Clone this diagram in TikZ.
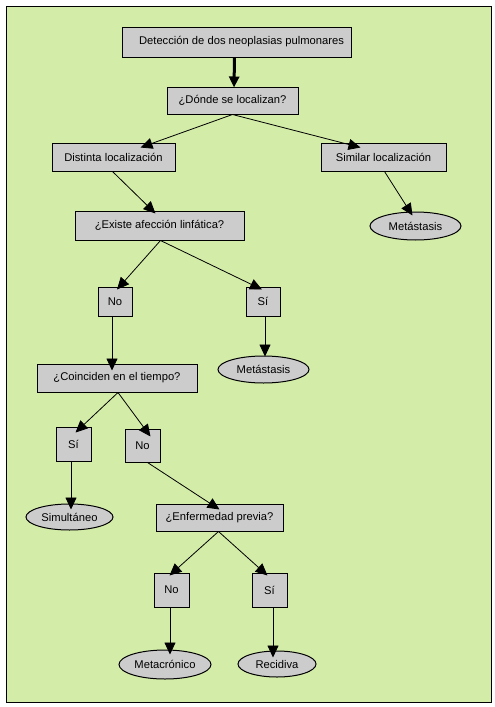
\documentclass[tikz,border=0pt]{standalone}
\usepackage{fontspec}
\setmainfont{Liberation Sans}
\usetikzlibrary{shapes.geometric,arrows.meta}
\definecolor{bggreen}{RGB}{211,236,168}
\definecolor{boxgray}{RGB}{204,204,204}
\begin{document}
\begin{tikzpicture}[x=1pt,y=-1pt,
  every node/.style={font=\fontsize{11.2}{13}\selectfont, inner sep=0pt},
  box/.style={draw, fill=boxgray, line width=1pt, rectangle, anchor=center},
  oval/.style={draw, fill=boxgray, line width=1pt, ellipse, anchor=center},
  arr/.style={line width=0.8pt, -{Triangle[length=12pt,width=11pt]}},
  thickarr/.style={line width=3pt, -{Triangle[length=11pt,width=10pt]}}]
\useasboundingbox (0,0) rectangle (495,707);
\fill[white] (0,0) rectangle (495,707);
\draw[fill=bggreen, line width=1pt] (6,6) rectangle (491,702);

\node[box, minimum width=229, minimum height=30] (det) at (236.5,42) {\hspace{10pt}Detección de dos neoplasias pulmonares};
\node[box, minimum width=131, minimum height=27] (donde) at (232.5,100.5) {¿Dónde se localizan?};
\node[box, minimum width=123, minimum height=28] (dist) at (113.5,157) {Distinta localización};
\node[box, minimum width=125, minimum height=28] (sim) at (383.5,157) {Similar localización};
\node[box, minimum width=169, minimum height=29] (linf) at (159.5,225.5) {¿Existe afección linfática?};
\node[oval, minimum width=91, minimum height=28] (meta1) at (415.5,226) {Metástasis};
\node[box, minimum width=34, minimum height=29] (no1) at (115,301.5) {No};
\node[box, minimum width=34, minimum height=29] (si1) at (263,301.5) {Sí};
\node[box, minimum width=160, minimum height=28] (coin) at (117,378) {¿Coinciden en el tiempo?};
\node[oval, minimum width=91, minimum height=27] (meta2) at (263.5,369.5) {Metástasis};
\node[box, minimum width=35, minimum height=34] (si2) at (73.5,444) {Sí};
\node[box, minimum width=35, minimum height=33] (no2) at (142.5,445.5) {No};
\node[oval, minimum width=87, minimum height=26] (simul) at (69.5,517) {Simultáneo};
\node[box, minimum width=127, minimum height=27] (enf) at (219.5,517.5) {¿Enfermedad previa?};
\node[box, minimum width=35, minimum height=34] (no3) at (171.5,590) {No};
\node[box, minimum width=35, minimum height=34] (si3) at (269.5,590) {Sí};
\node[oval, minimum width=92, minimum height=29] (metac) at (165,664.5) {Metacrónico};
\node[oval, minimum width=78, minimum height=26] (recid) at (277,664) {Recidiva};

\draw[thickarr] ([xshift=-2pt]det.south) -- ([xshift=1.5pt,yshift=-1pt]donde.north);
\draw[arr] (donde.south) -- ([xshift=27pt,yshift=-5pt]dist.north);
\draw[arr] (donde.south) -- ([xshift=-23pt,yshift=-5pt]sim.north);
\draw[arr] ([xshift=-1pt]dist.south) -- ([xshift=-4pt,yshift=-3pt]linf.north);
\draw[arr] ([xshift=1pt]sim.south) -- ([xshift=-3pt,yshift=-4pt]meta1.north);
\draw[arr] ([xshift=1pt]linf.south) -- ([xshift=2pt,yshift=-3pt]no1.north);
\draw[arr] ([xshift=1pt]linf.south) -- ([xshift=-1pt,yshift=-3pt]si1.north);
\draw[arr] ([xshift=-3pt]no1.south) -- ([xshift=-5pt,yshift=-7pt]coin.north);
\draw[arr] ([xshift=2pt]si1.south) -- ([xshift=1.5pt,yshift=-1pt]meta2.north);
\draw[arr] ([xshift=1pt]coin.south) -- ([xshift=2pt,yshift=-6pt]si2.north);
\draw[arr] ([xshift=1pt]coin.south) -- ([xshift=8pt,yshift=-8pt]no2.north);
\draw[arr] ([xshift=-2.5pt]si2.south) -- ([xshift=1.5pt,yshift=-6pt]simul.north);
\draw[arr] ([xshift=5pt]no2.south) -- ([xshift=0pt,yshift=-6pt]enf.north);
\draw[arr] ([xshift=-1pt]enf.south) -- ([xshift=-2pt,yshift=-3pt]no3.north);
\draw[arr] ([xshift=-1pt]enf.south) -- ([xshift=-2pt,yshift=-3pt]si3.north);
\draw[arr] ([xshift=-1.5pt]no3.south) -- ([xshift=5pt,yshift=-5pt]metac.north);
\draw[arr] ([xshift=3.5pt]si3.south) -- ([xshift=-4pt,yshift=-7pt]recid.north);
\end{tikzpicture}
\end{document}
